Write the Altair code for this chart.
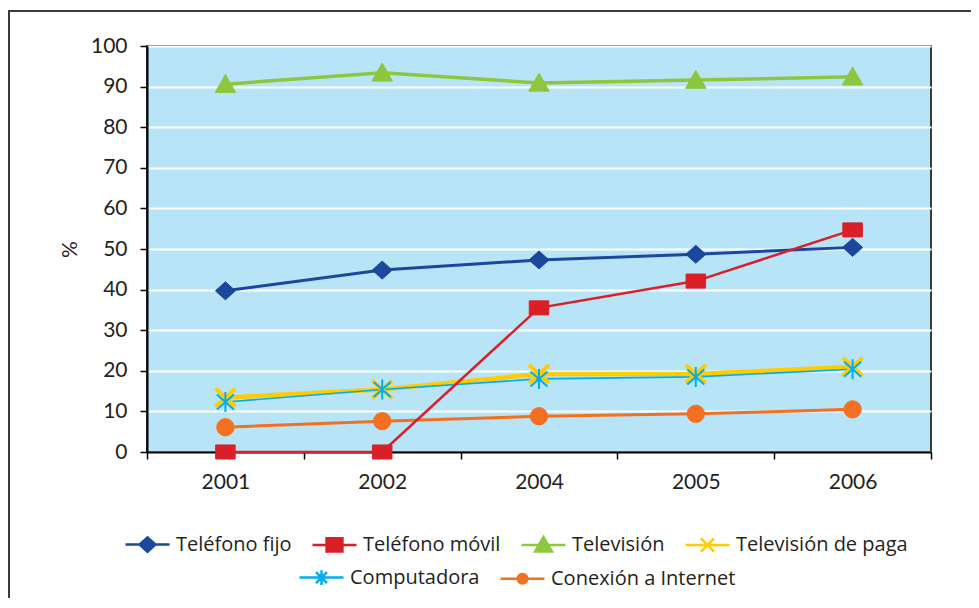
import altair as alt
import pandas as pd

years = ["2001", "2002", "2004", "2005", "2006"]
series_names = ["Teléfono fijo", "Teléfono móvil", "Televisión",
                "Televisión de paga", "Computadora", "Conexión a Internet"]
fijo = [39.7, 44.8, 47.3, 48.7, 50.4]
movil = [0, 0, 35.5, 42.1, 54.7]
tv = [90.6, 93.4, 90.9, 91.6, 92.4]
paga = [13.4, 15.4, 19.2, 19.2, 21.0]
compu = [12.3, 15.4, 18.0, 18.5, 20.4]
internet = [6.1, 7.6, 8.8, 9.4, 10.5]

colors = ["#1b479d", "#da1f26", "#8dc63f", "#ffcc00", "#00adef", "#f37021"]
line_widths = [3, 2.5, 3.5, 4.5, 1.6, 3]
marker_paths = [
    "M0,-0.9L1,0L0,0.9L-1,0Z",
    "M-1,-0.72H1V0.72H-1Z",
    "M0,-0.95L1,0.8H-1Z",
    "M-1,-0.9L1,0.9M-1,0.9L1,-0.9",
    "M-0.85,-0.75L0.85,0.75M-0.85,0.75L0.85,-0.75M0,-1V1",
    "circle",
]
marker_sizes = [400, 380, 420, 400, 400, 300]
marker_strokes = [1, 1, 1, 4, 2, 1]
legend_paths = [
    "M-1,0H1M0,-0.33L0.36,0L0,0.33L-0.36,0Z",
    "M-1,0H1M-0.36,-0.3H0.36V0.3H-0.36Z",
    "M-1,0H1M0,-0.36L0.38,0.3H-0.38Z",
    "M-1,0H1M-0.3,-0.3L0.3,0.3M-0.3,0.3L0.3,-0.3",
    "M-1,0H1M-0.25,-0.25L0.25,0.25M-0.25,0.25L0.25,-0.25M0,-0.33V0.33",
    "M-1,0H1M-0.22,0A0.22,0.22 0 1,0 0.22,0A0.22,0.22 0 1,0 -0.22,0Z",
]

values_by_name = dict(zip(series_names, [fijo, movil, tv, paga, compu, internet]))
line_order = ["Televisión", "Conexión a Internet", "Teléfono fijo",
              "Televisión de paga", "Computadora", "Teléfono móvil"]
point_order = ["Televisión", "Conexión a Internet", "Teléfono fijo",
               "Teléfono móvil", "Televisión de paga", "Computadora"]
rows = []
for name in series_names:
    for yr, v in zip(years, values_by_name[name]):
        rows.append({"year": yr, "series": name, "value": v})
df = pd.DataFrame(rows)

FONT = "Lato"
LEG_FONT = "Open Sans"
TXT = "#231f20"

x_enc = alt.X("year:N", sort=years,
              scale=alt.Scale(type="band", paddingInner=0, paddingOuter=0),
              axis=alt.Axis(title=None, labelAngle=0, tickBand="extent", tickSize=7,
                            tickColor="black", tickWidth=1.5, domainColor="black",
                            domainWidth=2, labelFont=FONT, labelFontSize=21,
                            labelColor=TXT, labelPadding=12, grid=False))
y_enc = alt.Y("value:Q", scale=alt.Scale(domain=[0, 100], nice=False),
              axis=alt.Axis(title="%", values=list(range(0, 101, 10)), tickSize=7,
                            tickColor="black", tickWidth=1.5, domainColor="black",
                            domainWidth=2, labelFont=FONT, labelFontSize=21,
                            labelColor=TXT, labelPadding=13, gridColor="white",
                            gridWidth=2, gridOpacity=1, titleFont=FONT,
                            titleFontSize=21, titleFontWeight="normal",
                            titleColor=TXT, titleX=-77, titleY=203,
                            titleAlign="center", titleBaseline="middle"))

base = alt.Chart(df)

border = alt.Chart(alt.Data(values=[{"a": 1}])).mark_rect(
    fillOpacity=0, stroke="#3c3c3c", strokeWidth=2
).encode(x=alt.value(-138), x2=alt.value(1100), y=alt.value(-35), y2=alt.value(800))

layers = [border]
for name in line_order:
    i = series_names.index(name)
    layers.append(
        base.transform_filter(alt.datum.series == name)
        .mark_line(color=colors[i], strokeWidth=line_widths[i])
        .encode(x=x_enc, y=y_enc)
    )
for name in point_order:
    i = series_names.index(name)
    layers.append(
        base.transform_filter(alt.datum.series == name)
        .mark_point(filled=True, opacity=1, fill=colors[i], stroke=colors[i],
                    shape=marker_paths[i], size=marker_sizes[i],
                    strokeWidth=marker_strokes[i])
        .encode(x=x_enc, y=y_enc)
    )


def legend_layer(names, lx, ly):
    idx = [series_names.index(n) for n in names]
    cols = [colors[i] for i in idx]
    paths = [legend_paths[i] for i in idx]
    leg = dict(orient="none", legendX=lx, legendY=ly, direction="horizontal",
               title=None, labelFont=LEG_FONT, labelFontSize=20, labelColor=TXT,
               symbolSize=1936, symbolStrokeWidth=2.5, columnPadding=15,
               labelOffset=5, symbolOpacity=1, padding=0, labelLimit=400)
    return base.transform_filter("datum.value < -999").mark_point(filled=True).encode(
        x=x_enc, y=y_enc,
        color=alt.Color("series:N", scale=alt.Scale(domain=names, range=cols), legend=alt.Legend(**leg)),
        stroke=alt.Stroke("series:N", scale=alt.Scale(domain=names, range=cols), legend=alt.Legend(**leg)),
        shape=alt.Shape("series:N", scale=alt.Scale(domain=names, range=paths), legend=alt.Legend(**leg)),
    )


layers.append(legend_layer(series_names[:4], -23, 475))
layers.append(legend_layer(series_names[4:], 151, 508))

chart = alt.layer(*layers).resolve_scale(
    color="independent", stroke="independent", shape="independent"
).properties(
    width=784, height=406,
    background="white",
    autosize=alt.AutoSizeParams(type="none"),
    padding={"left": 139, "top": 38, "right": 40, "bottom": 146},
).configure_view(
    fill="#b8e4f7", stroke="#3a3a3a", strokeWidth=2
)

chart.save("out.html", embed_options={"renderer": "svg", "actions": False})
